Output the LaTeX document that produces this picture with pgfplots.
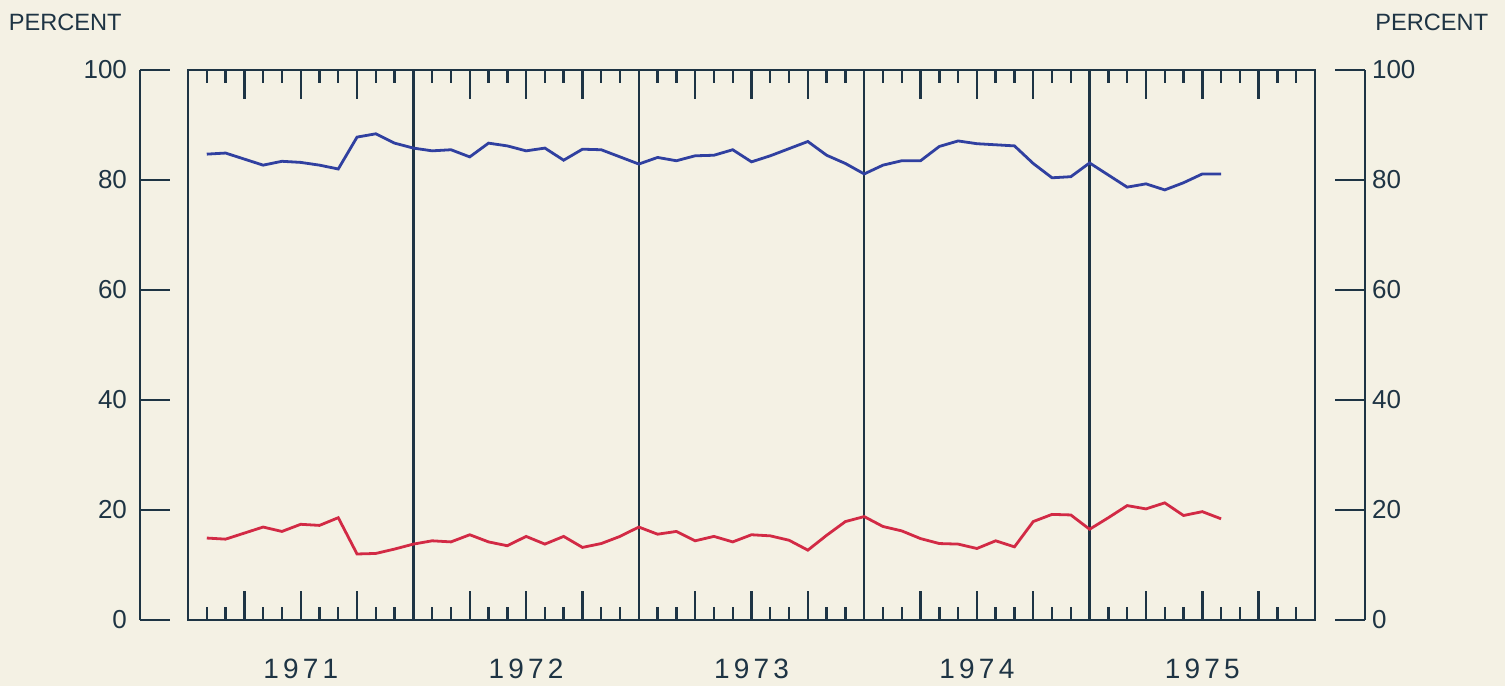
\documentclass[border=0pt]{standalone}
\usepackage{fontspec}
\setmainfont{Liberation Sans}
\newfontfamily\yearfont[LetterSpace=15]{Liberation Sans}
\usepackage{pgfplots}
\pgfplotsset{compat=1.18}
\usepackage{pgfplotstable}
\definecolor{bg}{HTML}{F4F1E4}
\definecolor{axc}{HTML}{1E3444}
\definecolor{blueline}{HTML}{3040A0}
\definecolor{redline}{HTML}{D22A45}
\pgfplotstableread{
k v
1 84.7
2 84.9
3 83.8
4 82.7
5 83.4
6 83.2
7 82.7
8 82.0
9 87.8
10 88.4
11 86.7
12 85.8
13 85.3
14 85.5
15 84.2
16 86.7
17 86.2
18 85.3
19 85.8
20 83.6
21 85.6
22 85.5
23 84.2
24 82.9
25 84.1
26 83.5
27 84.4
28 84.5
29 85.5
30 83.3
31 84.4
32 85.7
33 87.0
34 84.5
35 83.0
36 81.1
37 82.7
38 83.5
39 83.5
40 86.1
41 87.1
42 86.6
43 86.4
44 86.2
45 83.0
46 80.4
47 80.6
48 83.1
49 80.9
50 78.7
51 79.3
52 78.2
53 79.5
54 81.1
55 81.1
}\blueseries
\pgfplotstableread{
k v
1 14.9
2 14.7
3 15.8
4 16.9
5 16.1
6 17.4
7 17.2
8 18.6
9 12.0
10 12.1
11 12.9
12 13.8
13 14.4
14 14.2
15 15.5
16 14.2
17 13.5
18 15.2
19 13.8
20 15.2
21 13.2
22 13.9
23 15.2
24 16.9
25 15.6
26 16.1
27 14.4
28 15.2
29 14.2
30 15.5
31 15.3
32 14.5
33 12.7
34 15.4
35 17.9
36 18.8
37 17.0
38 16.2
39 14.8
40 13.9
41 13.8
42 13.0
43 14.4
44 13.3
45 17.9
46 19.2
47 19.1
48 16.5
49 18.6
50 20.8
51 20.2
52 21.3
53 19.0
54 19.7
55 18.4
}\redseries
\begin{document}
\begin{tikzpicture}
\path[use as bounding box, fill=bg] (-94pt,-33pt) rectangle (658.5pt,310pt);
% main axis
\begin{axis}[
  at={(0,0)}, anchor=south west, scale only axis,
  width=563.5pt, height=275pt,
  xmin=0, xmax=60, ymin=0, ymax=100,
  ytick=\empty,
  xtick={3,6,9,15,18,21,27,30,33,39,42,45,51,54,57},
  xticklabels={{},1971,{},{},1972,{},{},1973,{},{},1974,{},{},1975,{}},
  minor xtick={1,2,4,5,7,8,10,11,13,14,16,17,19,20,22,23,25,26,28,29,31,32,34,35,37,38,40,41,43,44,46,47,49,50,52,53,55,56,58,59},
  tick align=inside, xtick pos=both, xticklabel pos=bottom,
  major tick length=14.5pt, minor tick length=6.5pt,
  extra x ticks={12,24,36,48}, extra x tick labels={},
  extra x tick style={grid=major, major tick length=0pt},
  major grid style={axc, line width=1.2pt},
  axis line style={axc, line width=1.4pt},
  every tick/.style={axc, line width=1.2pt},
  xticklabel style={font=\yearfont\fontsize{14}{14}\selectfont, text=axc, yshift=-16pt},
  /pgf/number format/assume math mode=true,
  clip=false,
]
\addplot[blueline, line width=1.4pt] table[x=k, y=v] {\blueseries};
\addplot[redline, line width=1.4pt] table[x=k, y=v] {\redseries};
\end{axis}
% left axis
\begin{axis}[
  at={(-24pt,0)}, anchor=south west, scale only axis,
  width=15pt, height=275pt,
  xmin=0, xmax=1, ymin=0, ymax=100,
  axis y line*=left, axis x line=none,
  ytick={0,20,40,60,80,100},
  tick align=inside, major tick length=15pt,
  axis line style={axc, line width=1.4pt},
  every tick/.style={axc, line width=1.2pt},
  yticklabel style={font=\fontsize{13}{13}\selectfont, text=axc, xshift=-3pt},
  /pgf/number format/assume math mode=true,
]
\end{axis}
% right axis
\begin{axis}[
  at={(588.5pt,0)}, anchor=south east, scale only axis,
  width=15pt, height=275pt,
  xmin=0, xmax=1, ymin=0, ymax=100,
  axis y line*=right, axis x line=none,
  ytick={0,20,40,60,80,100},
  tick align=inside, major tick length=15pt,
  axis line style={axc, line width=1.4pt},
  every tick/.style={axc, line width=1.2pt},
  yticklabel style={font=\fontsize{13}{13}\selectfont, text=axc, xshift=0pt},
  /pgf/number format/assume math mode=true,
]
\end{axis}
\node[anchor=east, text=axc, font=\fontsize{11.8}{11.8}\selectfont, inner sep=0pt] at (-33pt,299pt) {PERCENT};
\node[anchor=west, text=axc, font=\fontsize{11.8}{11.8}\selectfont, inner sep=0pt] at (593.5pt,299pt) {PERCENT};
\end{tikzpicture}
\end{document}
